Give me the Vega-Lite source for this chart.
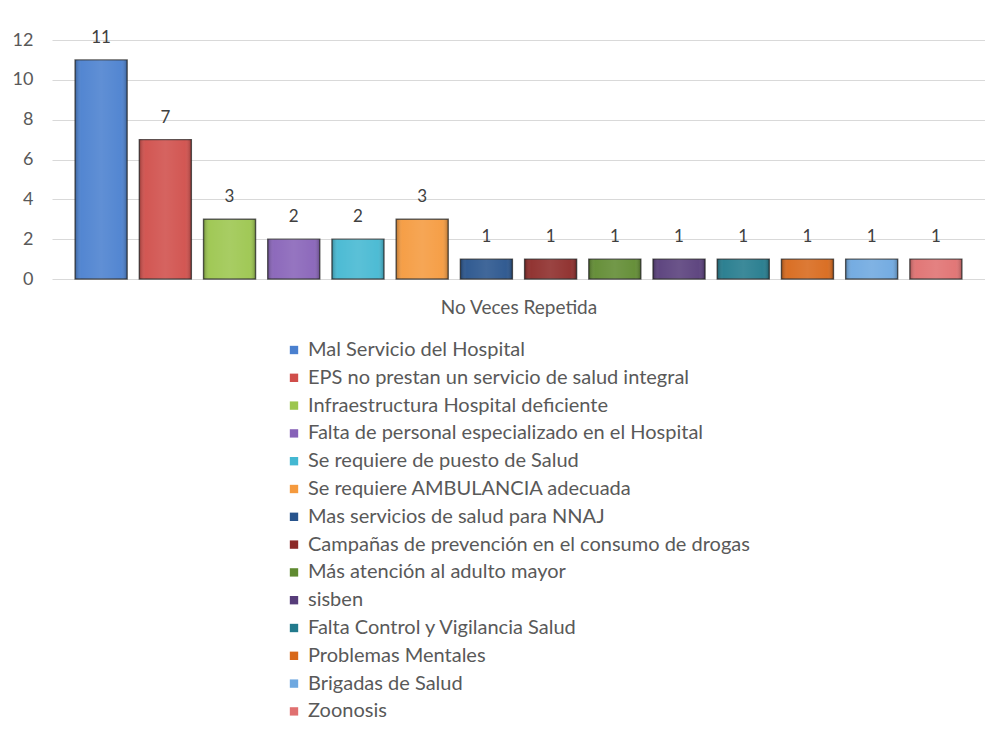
{
  "$schema": "https://vega.github.io/schema/vega-lite/v6.json",
  "width": 933,
  "height": 239,
  "autosize": {"type": "none"},
  "padding": {"left": 52, "top": 40, "right": 0, "bottom": 454},
  "background": "white",
  "config": {
    "font": "Lato",
    "view": {"stroke": null}
  },
  "data": {
    "values": [
      {"categoria": "Mal Servicio del Hospital", "veces": 11},
      {"categoria": "EPS no prestan un servicio de salud integral", "veces": 7},
      {"categoria": "Infraestructura Hospital deficiente", "veces": 3},
      {"categoria": "Falta de personal especializado en el Hospital", "veces": 2},
      {"categoria": "Se requiere de puesto de Salud", "veces": 2},
      {"categoria": "Se requiere AMBULANCIA adecuada", "veces": 3},
      {"categoria": "Mas servicios de salud para NNAJ", "veces": 1},
      {"categoria": "Campañas de prevención en el consumo de drogas", "veces": 1},
      {"categoria": "Más atención al adulto mayor", "veces": 1},
      {"categoria": "sisben", "veces": 1},
      {"categoria": "Falta Control y Vigilancia Salud", "veces": 1},
      {"categoria": "Problemas Mentales", "veces": 1},
      {"categoria": "Brigadas de Salud", "veces": 1},
      {"categoria": "Zoonosis", "veces": 1}
    ]
  },
  "encoding": {
    "x": {
      "field": "categoria",
      "type": "nominal",
      "sort": null,
      "scale": {"paddingInner": 0.19, "paddingOuter": 0.36},
      "axis": {
        "title": "No Veces Repetida",
        "labels": false,
        "ticks": false,
        "domain": false,
        "titleFont": "Lato",
        "titleFontSize": 19,
        "titleFontWeight": "normal",
        "titleColor": "#595959",
        "titlePadding": 19
      }
    },
    "y": {
      "field": "veces",
      "type": "quantitative",
      "scale": {"domain": [0, 12]},
      "axis": {
        "title": null,
        "values": [0, 2, 4, 6, 8, 10, 12],
        "ticks": false,
        "domain": false,
        "labelFontSize": 18,
        "labelColor": "#595959",
        "labelPadding": 19,
        "gridColor": "#d9d9d9",
        "gridWidth": 1.2
      }
    }
  },
  "layer": [
    {
      "mark": {"type": "bar", "stroke": "#2a2a2a", "strokeWidth": 1.4, "strokeOpacity": 0.75},
      "encoding": {
        "color": {
          "field": "categoria",
          "type": "nominal",
          "sort": null,
          "scale": {
            "domain": [
              "Mal Servicio del Hospital",
              "EPS no prestan un servicio de salud integral",
              "Infraestructura Hospital deficiente",
              "Falta de personal especializado en el Hospital",
              "Se requiere de puesto de Salud",
              "Se requiere AMBULANCIA adecuada",
              "Mas servicios de salud para NNAJ",
              "Campañas de prevención en el consumo de drogas",
              "Más atención al adulto mayor",
              "sisben",
              "Falta Control y Vigilancia Salud",
              "Problemas Mentales",
              "Brigadas de Salud",
              "Zoonosis"
            ],
            "range": [
              "#4a80cf", "#d04e4a", "#9cc64e", "#8762b8", "#44b8d2", "#f59a3e",
              "#27538c", "#8c2a28", "#5f8a30", "#573d7a", "#227a8c", "#d8681a",
              "#6ea8e0", "#e07070"
            ]
          },
          "legend": {
            "title": null,
            "orient": "none",
            "legendX": 232,
            "legendY": 300,
            "direction": "vertical",
            "symbolType": "square",
            "symbolSize": 70,
            "symbolStrokeWidth": 0,
            "labelFontSize": 20,
            "labelColor": "#595959",
            "labelLimit": 700,
            "labelOffset": 4,
            "rowPadding": 7.8
          }
        }
      }
    },
    {
      "mark": {
        "type": "bar",
        "fill": {
          "gradient": "linear",
          "x1": 0, "y1": 0, "x2": 1, "y2": 0,
          "stops": [
            {"offset": 0, "color": "rgba(0,0,0,0.25)"},
            {"offset": 0.12, "color": "rgba(255,255,255,0.05)"},
            {"offset": 0.5, "color": "rgba(255,255,255,0.12)"},
            {"offset": 0.88, "color": "rgba(255,255,255,0.05)"},
            {"offset": 1, "color": "rgba(0,0,0,0.25)"}
          ]
        }
      }
    },
    {
      "mark": {"type": "text", "baseline": "bottom", "dy": -13, "fontSize": 17, "color": "#404040"},
      "encoding": {"text": {"field": "veces", "type": "quantitative"}}
    }
  ]
}
